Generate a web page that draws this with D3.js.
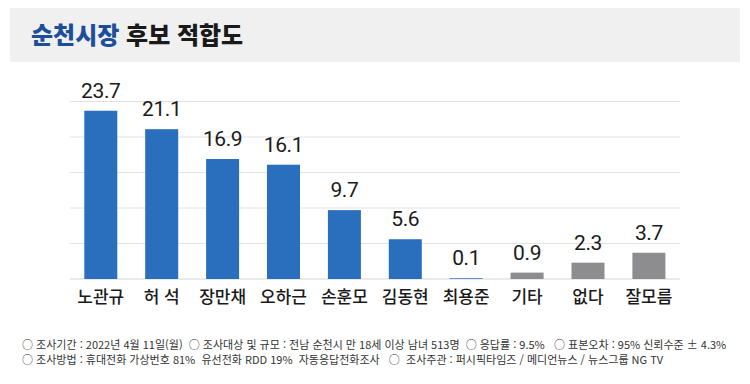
<!DOCTYPE html>
<html lang="ko">

<head>
    <meta charset="UTF-8">
    <script src="https://cdn.jsdelivr.net/npm/d3@7"></script>
    <style>
        body {
            margin: 0;
            background: #fff;
        }
    </style>
</head>

<body>
    <svg id="chart" width="750" height="384"></svg>
    <script>
        // data
        const categories = ["노관규", "허 석", "장만채", "오하근", "손훈모", "김동현", "최용준", "기타", "없다", "잘모름"];
        const values = [23.7, 21.1, 16.9, 16.1, 9.7, 5.6, 0.1, 0.9, 2.3, 3.7];
        const isCandidate = [true, true, true, true, true, true, true, false, false, false];
        const yTicks = [0, 5, 10, 15, 20, 25];
        const footLines = [
            "○ 조사기간 : 2022년 4월 11일(월)  ○ 조사대상 및 규모 : 전남 순천시 만 18세 이상 남녀 513명  ○ 응답률 : 9.5%   ○ 표본오차 : 95% 신뢰수준 ± 4.3%",
            "○ 조사방법 : 휴대전화 가상번호 81%  유선전화 RDD 19%  자동응답전화조사   ○  조사주관 : 퍼시픽타임즈 / 메디언뉴스 / 뉴스그룹 NG TV"
        ];

        const svg = d3.select("#chart");
        const krFont = "'Noto Sans CJK KR', 'Noto Sans', sans-serif";

        // title band
        svg.append("rect")
            .attr("x", 10)
            .attr("y", 8)
            .attr("width", 730)
            .attr("height", 54)
            .attr("fill", "#f0f0f0");

        let title = svg.append("text")
            .attr("x", 31)
            .attr("y", 44)
            .attr("font-family", krFont)
            .attr("font-size", 24)
            .attr("font-weight", 900);
        title.append("tspan").attr("fill", "#1d4e9a").text("순천시장");
        title.append("tspan").attr("fill", "#1a1a1a").text(" 후보 적합도");

        // scales
        let x = d3.scaleBand()
            .domain(categories)
            .range([70.35, 679.35])
            .paddingInner(0.458)
            .paddingOuter(0.229);

        let y = d3.scaleLinear()
            .domain([0, 25])
            .range([279, 101.5]);

        // grid
        svg.append("g")
            .selectAll("line")
            .data(yTicks)
            .join("line")
            .attr("x1", 70)
            .attr("x2", 680)
            .attr("y1", d => y(d))
            .attr("y2", d => y(d))
            .attr("stroke", d => d === 0 ? "#d4d4d4" : "#e2e2e2")
            .attr("stroke-width", 1);

        // bars
        svg.append("g")
            .selectAll("rect")
            .data(values)
            .join("rect")
            .attr("x", (d, i) => x(categories[i]))
            .attr("y", d => y(d))
            .attr("width", x.bandwidth())
            .attr("height", d => y(0) - y(d))
            .attr("fill", (d, i) => isCandidate[i] ? "#2a6fbe" : "#8d8d8f");

        // value labels
        svg.append("g")
            .selectAll("text")
            .data(values)
            .join("text")
            .attr("x", (d, i) => x(categories[i]) + x.bandwidth() / 2)
            .attr("y", d => y(d) - 13)
            .attr("text-anchor", "middle")
            .attr("font-family", "Roboto, 'Liberation Sans', sans-serif")
            .attr("font-size", 21)
            .attr("letter-spacing", -0.4)
            .attr("fill", "#1a1a1a")
            .text(d => d.toFixed(1));

        // category labels
        svg.append("g")
            .selectAll("text")
            .data(categories)
            .join("text")
            .attr("x", d => x(d) + x.bandwidth() / 2)
            .attr("y", 303)
            .attr("text-anchor", "middle")
            .attr("font-family", krFont)
            .attr("font-size", 17)
            .attr("font-weight", 500)
            .attr("fill", "#1a1a1a")
            .text(d => d);

        // footer notes
        svg.append("g")
            .selectAll("text")
            .data(footLines)
            .join("text")
            .attr("x", 22)
            .attr("y", (d, i) => 349 + i * 14.5)
            .attr("font-family", krFont)
            .attr("font-size", 11)
            .attr("fill", "#333")
            .attr("xml:space", "preserve")
            .style("white-space", "pre")
            .text(d => d);
    </script>
</body>

</html>
